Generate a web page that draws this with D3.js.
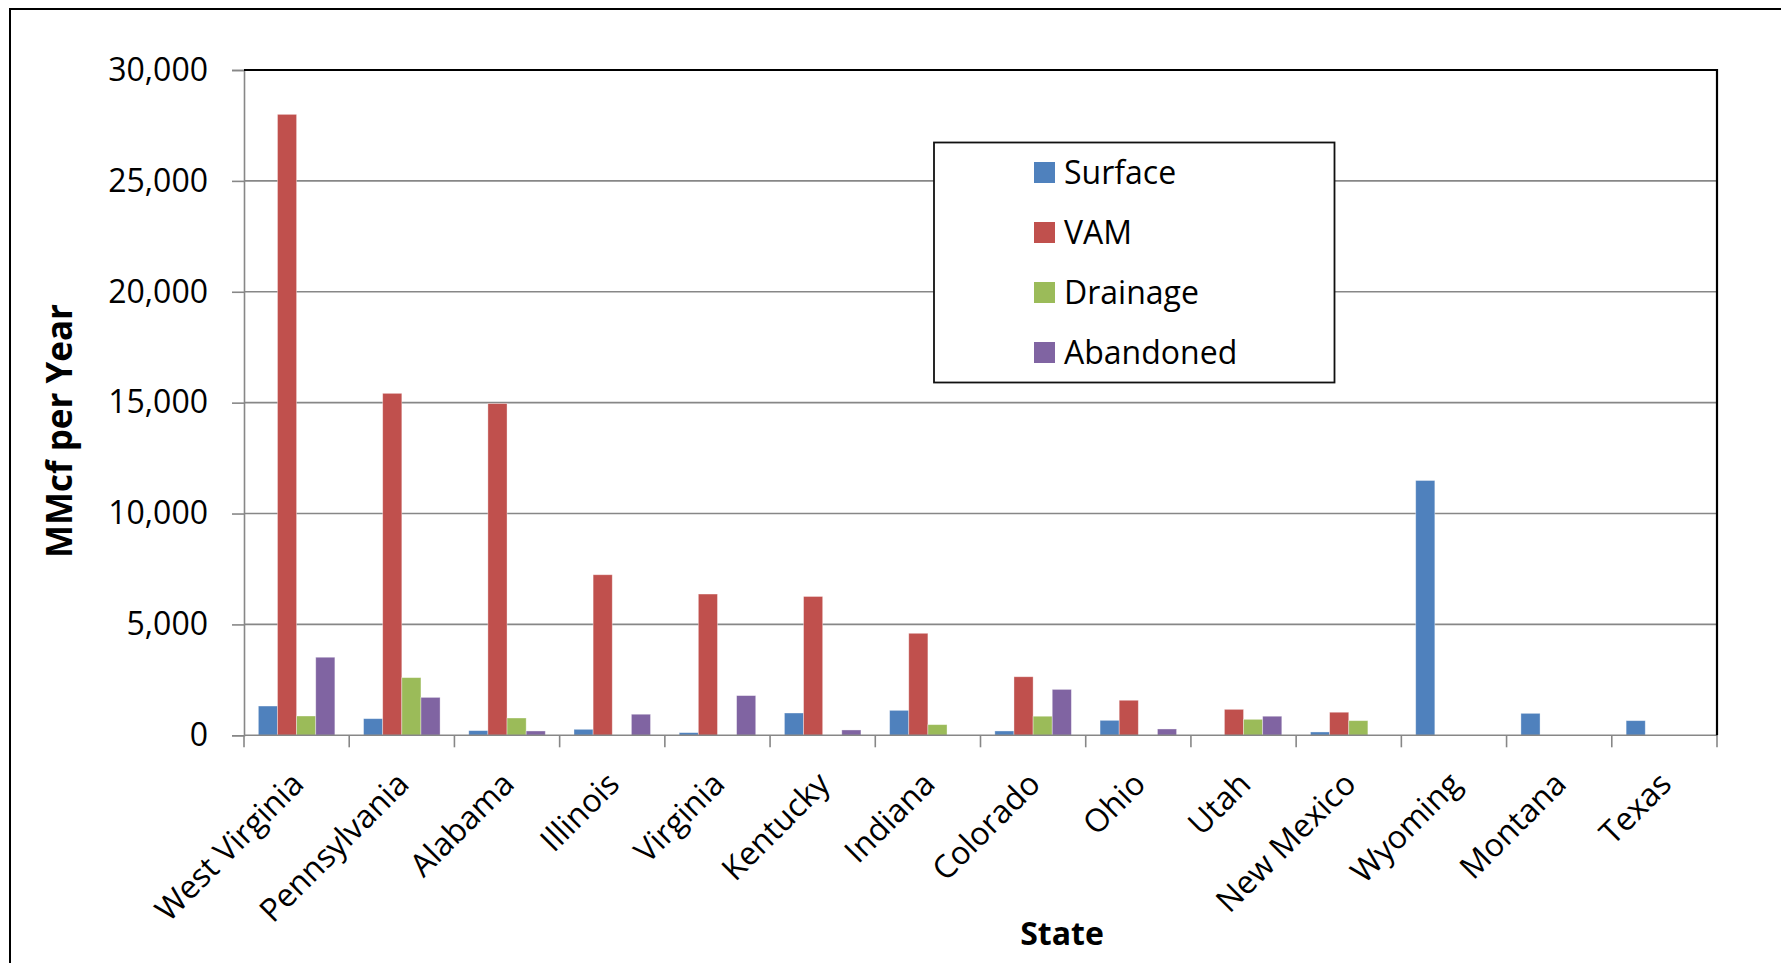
<!DOCTYPE html>
<html>
<head>
<meta charset="utf-8">
<script src="https://cdn.jsdelivr.net/npm/d3@7"></script>
<style>
  html, body { margin: 0; padding: 0; background: #fff; }
  svg { display: block; }
  text { font-family: "Open Sans", "Noto Sans", sans-serif; fill: #000; }
</style>
</head>
<body>
<svg id="chart" width="1781" height="963"></svg>
<script>
const categories = ["West Virginia","Pennsylvania","Alabama","Illinois","Virginia","Kentucky","Indiana","Colorado","Ohio","Utah","New Mexico","Wyoming","Montana","Texas"];
const seriesNames = ["Surface","VAM","Drainage","Abandoned"];
const seriesColors = ["#4F81BD","#C0504D","#9BBB59","#8064A2"];
const surface   = [1320, 750, 210, 270, 120, 1005, 1125, 195, 675, 0, 150, 11490, 990, 660];
const vam       = [28000, 15420, 14960, 7240, 6370, 6260, 4600, 2640, 1580, 1170, 1040, 0, 0, 0];
const drainage  = [870, 2600, 780, 0, 0, 0, 480, 860, 0, 720, 660, 0, 0, 0];
const abandoned = [3520, 1710, 195, 950, 1790, 240, 0, 2070, 285, 860, 0, 0, 0, 0];
const yTicks = [0, 5000, 10000, 15000, 20000, 25000, 30000];
const yTitle = "MMcf per Year";
const xTitle = "State";

const seriesValues = [surface, vam, drainage, abandoned];

const svg = d3.select("#chart");
const L = 244, R = 1717, T = 70, B = 735.3;

// outer frame
svg.append("rect").attr("x", 10).attr("y", 9).attr("width", 1800).attr("height", 1000)
  .attr("fill", "none").attr("stroke", "#000").attr("stroke-width", 2);

const x = d3.scaleBand().domain(categories).range([L, R]).paddingInner(0).paddingOuter(0);
const xs = d3.scaleBand().domain(seriesNames).range([0, x.bandwidth()]).paddingInner(0).paddingOuter(0.75);
const y = d3.scaleLinear().domain([0, 30000]).range([B, T]);

// gridlines
svg.append("g").selectAll("line").data(yTicks.filter(d => d > 0 && d < 30000)).join("line")
  .attr("x1", L).attr("x2", R).attr("y1", d => y(d)).attr("y2", d => y(d))
  .attr("stroke", "#878787").attr("stroke-width", 1.6);

// y axis
const yAxis = d3.axisLeft(y).tickValues(yTicks).tickFormat(d3.format(",")).tickSize(12).tickPadding(24);
const gy = svg.append("g").attr("transform", `translate(${L},0)`).call(yAxis);
gy.select(".domain").attr("stroke", "#878787").attr("stroke-width", 1.6);
gy.selectAll(".tick line").attr("stroke", "#878787").attr("stroke-width", 1.6);
gy.selectAll(".tick text").attr("font-size", 32).attr("font-family", "Open Sans").attr("fill", "#000");

// x axis ticks at category boundaries
const boundaries = categories.map(c => x(c)).concat([R]);
svg.append("g").selectAll("line").data(boundaries).join("line")
  .attr("x1", d => d).attr("x2", d => d).attr("y1", B).attr("y2", B + 12)
  .attr("stroke", "#878787").attr("stroke-width", 1.6);

// bars
const barData = [];
categories.forEach((c, i) => {
  seriesNames.forEach((s, j) => {
    barData.push({cat: c, ser: s, val: seriesValues[j][i], color: seriesColors[j]});
  });
});
svg.append("g").selectAll("rect").data(barData.filter(d => d.val > 0)).join("rect")
  .attr("x", d => x(d.cat) + xs(d.ser))
  .attr("width", xs.bandwidth())
  .attr("y", d => y(d.val))
  .attr("height", d => B - y(d.val))
  .attr("fill", d => d.color)
  .attr("stroke", "rgba(255,255,255,0.45)").attr("stroke-width", 0.8);

// bottom axis line
svg.append("line").attr("x1", L).attr("x2", R).attr("y1", B).attr("y2", B)
  .attr("stroke", "#878787").attr("stroke-width", 1.6);

// top and right plot border
svg.append("path").attr("d", `M${L},${T}H${R}V${B}`).attr("fill", "none")
  .attr("stroke", "#000").attr("stroke-width", 2.2);

// x labels
svg.append("g").selectAll("text").data(categories).join("text")
  .attr("transform", d => `translate(${x(d) + x.bandwidth() / 2 + 9},786) rotate(-45)`)
  .attr("text-anchor", "end")
  .attr("font-size", 32)
  .text(d => d);

// axis titles
svg.append("text").attr("transform", "translate(72,431) rotate(-90)")
  .attr("text-anchor", "middle").attr("font-size", 35).attr("font-weight", "bold").text(yTitle);
svg.append("text").attr("x", 1062).attr("y", 945)
  .attr("text-anchor", "middle").attr("font-size", 32).attr("font-weight", "bold").text(xTitle);

// legend
const lg = svg.append("g");
lg.append("rect").attr("x", 934).attr("y", 142.5).attr("width", 400.5).attr("height", 240)
  .attr("fill", "#fff").attr("stroke", "#111").attr("stroke-width", 1.8);
const rows = lg.selectAll("g.row").data(seriesNames).join("g").attr("class", "row")
  .attr("transform", (d, i) => `translate(0,${172.5 + i * 60})`);
rows.append("rect").attr("x", 1034).attr("y", -10.5).attr("width", 21).attr("height", 21)
  .attr("fill", (d, i) => seriesColors[i]);
rows.append("text").attr("x", 1064).attr("y", 0).attr("dy", "0.35em")
  .attr("font-size", 32).text(d => d);
</script>
</body>
</html>
